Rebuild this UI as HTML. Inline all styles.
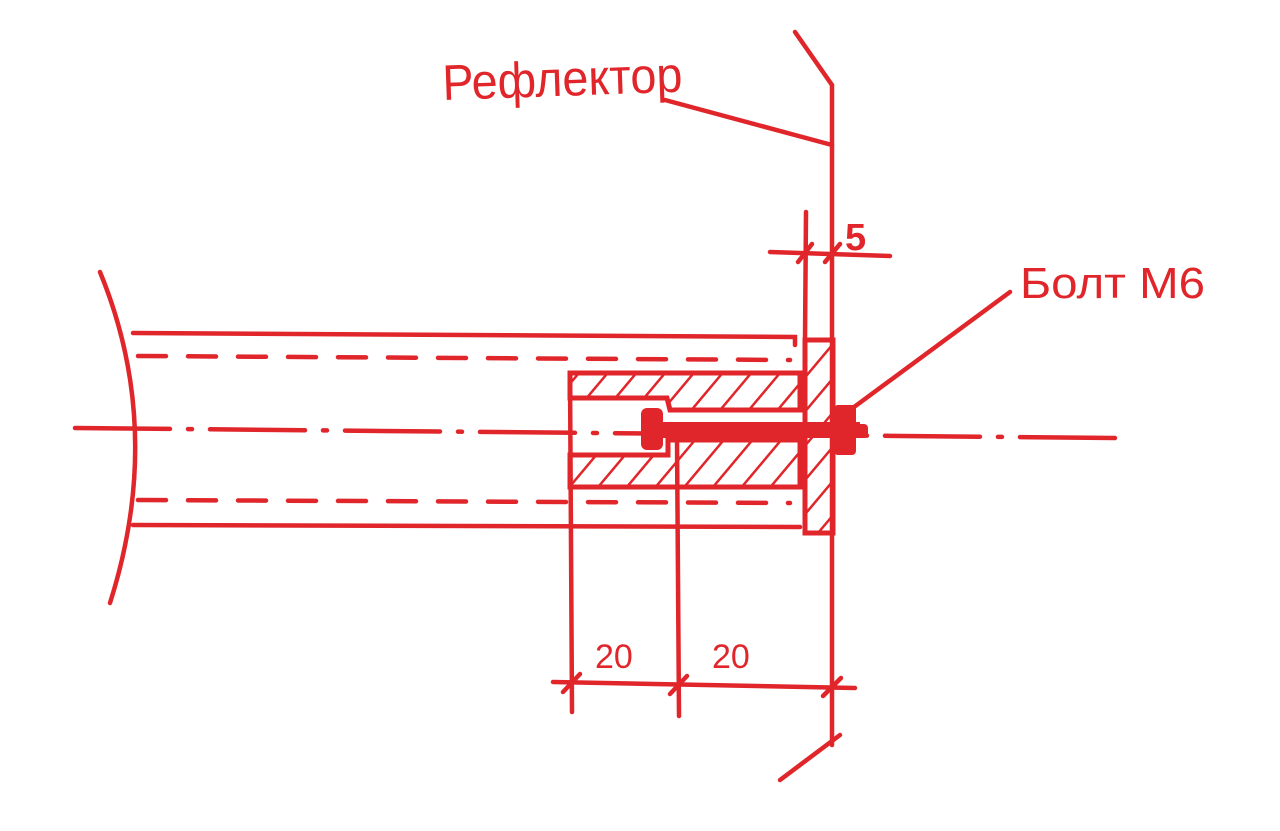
<!DOCTYPE html>
<html><head><meta charset="utf-8"><style>
html,body{margin:0;padding:0;background:#fff;}
svg{display:block;}
text{font-family:"Liberation Sans",sans-serif;fill:#e0262a;}
</style></head><body>
<svg width="1280" height="831" viewBox="0 0 1280 831" xmlns="http://www.w3.org/2000/svg">
<defs>
<pattern id="h" patternUnits="userSpaceOnUse" width="22" height="22" patternTransform="rotate(40)">
<line x1="0" y1="0" x2="0" y2="22" stroke="#e0262a" stroke-width="5"/>
</pattern>
</defs>
<g stroke="#e0262a" stroke-width="4.5" fill="none" stroke-linecap="round">
<path d="M100 272 Q165 430 110 603"/>
<path d="M133 333 L795 337 L795 345"/>
<path d="M133 525 L800 527"/>
<path d="M138 356 L790 360" stroke-dasharray="28 22"/>
<path d="M138 500 L790 503" stroke-dasharray="28 22"/>
<path d="M75 428 L1115 438" stroke-dasharray="95 18 4 18"/>
<path d="M570 373 L800 373 L800 410 L670 410 L667 398 L570 398 Z" fill="url(#h)" stroke-width="5"/>
<path d="M675 440 L800 440 L800 487 L570 487 L570 455 L668 455 L668 440 Z" fill="url(#h)" stroke-width="5"/>
<path d="M805 340 L833 340 L833 533 L805 533 Z" fill="url(#h)" stroke-width="5"/>
<path d="M570 373 L572 712"/>
<path d="M677 440 L679 716"/>
<path d="M806 212 L805 340"/>
<path d="M795 32 L832 85"/>
<path d="M832 85 L832 745"/>
<path d="M780 780 L840 735"/>
<path d="M665 100 L832 145"/>
<path d="M1010 292 L850 410"/>
<path d="M770 252 L890 256"/>
<path d="M798 262 L812 244 M825 262 L840 244"/>
<path d="M553 682 L855 688"/>
<path d="M563 692 L580 674 M670 694 L687 676 M823 696 L841 678"/>
</g>
<g fill="#e0262a">
<rect x="641" y="408" width="22" height="42" rx="6"/>
<rect x="660" y="422" width="200" height="16"/>
<rect x="834" y="405" width="22" height="50" rx="4"/>
<rect x="854" y="424" width="14" height="14" rx="4"/>
</g>
<text x="443" y="100" font-size="50" textLength="240" lengthAdjust="spacingAndGlyphs" transform="rotate(-2 443 100)">Рефлектор</text>
<text x="845" y="250" font-size="38" font-weight="bold">5</text>
<text x="1020" y="298" font-size="44" textLength="185" lengthAdjust="spacingAndGlyphs">Болт М6</text>
<text x="595" y="668" font-size="34">20</text>
<text x="712" y="668" font-size="34">20</text>
</svg>
</body></html>
